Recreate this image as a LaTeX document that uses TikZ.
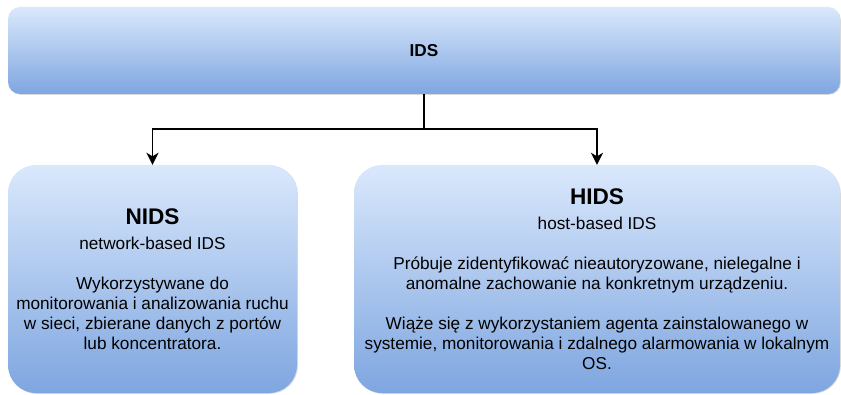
\documentclass[tikz,border=0pt]{standalone}
\usepackage{fontspec}
\setmainfont{Liberation Sans}
\usetikzlibrary{positioning,arrows.meta,shadows}
\definecolor{box top}{HTML}{DAE8FC}
\definecolor{box bottom}{HTML}{7EA6E0}
\tikzset{
  ids box/.style={rounded corners=#1, top color=box top, bottom color=box bottom, draw=none,
    drop shadow={shadow xshift=0.8pt, shadow yshift=-0.8pt, opacity=0.25, fill=black!60},
    align=center, inner sep=0pt, font=\fontsize{17.2}{20}\selectfont},
  ids box/.default=12pt,
  link/.style={line width=1.6pt, -{Stealth[length=12pt, width=12pt, inset=3.5pt]}},
}
\newcommand{\boxtitle}[1]{{\fontsize{22.6}{24}\selectfont\textbf{#1}}}
\begin{document}
\begin{tikzpicture}[x=1pt, y=-1pt]
  \useasboundingbox (0, 0) rectangle (841, 395);
  \node [ids box, minimum width=832pt, minimum height=87pt] (ids) at (424, 50.5) {\textbf{IDS}};
  \node [ids box=28pt, minimum width=289pt, minimum height=228pt] (nids) at (152.5, 279)
    {\boxtitle{NIDS}\\[5pt]
     network-based IDS\\[20pt]
     Wykorzystywane do\\
     monitorowania i analizowania ruchu\\
     w sieci, zbierane danych z portów\\
     lub koncentratora.};
  \node [ids box=28pt, minimum width=486pt, minimum height=228pt] (hids) at (597, 279)
    {\boxtitle{HIDS}\\[5pt]
     host-based IDS\\[20pt]
     Próbuje zidentyfikować nieautoryzowane, nielegalne i\\
     anomalne zachowanie na konkretnym urządzeniu.\\[20pt]
     Wiąże się z wykorzystaniem agenta zainstalowanego w\\
     systemie, monitorowania i zdalnego alarmowania w lokalnym\\
     OS.};
  \coordinate [below=35pt of ids] (split);
  \draw [link] (ids) -- (split) -| (nids);
  \draw [link] (split) -| (hids);
\end{tikzpicture}
\end{document}
